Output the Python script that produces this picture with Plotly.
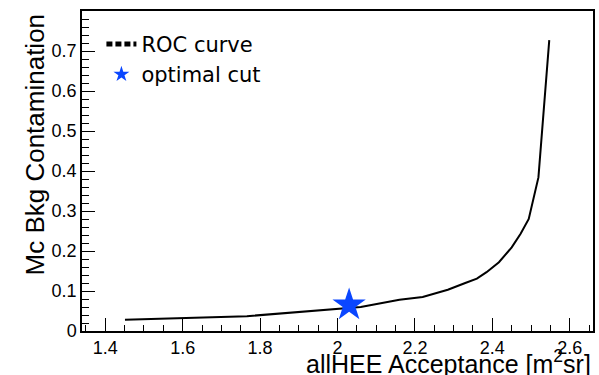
import plotly.graph_objects as go

# ROC curve: signal acceptance vs. MC background contamination
roc_acceptance = [1.451, 1.766, 2.060, 2.160, 2.220, 2.285, 2.330, 2.360,
                  2.385, 2.417, 2.450, 2.473, 2.494, 2.519, 2.547]
roc_contamination = [0.028, 0.037, 0.060, 0.078, 0.085, 0.103, 0.120, 0.131,
                     0.147, 0.172, 0.209, 0.243, 0.280, 0.384, 0.727]

# chosen working point
opt_acceptance = [2.03]
opt_contamination = [0.065]

x_tickvals = [1.4, 1.6, 1.8, 2.0, 2.2, 2.4, 2.6]
x_ticktext = ["1.4", "1.6", "1.8", "2", "2.2", "2.4", "2.6"]
y_tickvals = [0, 0.1, 0.2, 0.3, 0.4, 0.5, 0.6, 0.7]
y_ticktext = ["0", "0.1", "0.2", "0.3", "0.4", "0.5", "0.6", "0.7"]

title_text = "332.84 12 466.66 0.37"
x_title = "allHEE Acceptance [m<sup>2</sup>sr]"
y_title = "Mc Bkg Contamination"

AX_FONT = "Liberation Sans, Arial, sans-serif"
LEG_FONT = "DejaVu Sans, sans-serif"
STAR_BLUE = "#0a46ff"

fig = go.Figure()

fig.add_trace(go.Scatter(
    x=roc_acceptance, y=roc_contamination, mode="lines",
    line=dict(color="black", width=2), showlegend=False,
))
# legend entry for the curve
fig.add_trace(go.Scatter(
    x=[None], y=[None], mode="lines", name="ROC curve",
    line=dict(color="black", width=1.4, dash="6px,3px"),
))
fig.add_trace(go.Scatter(
    x=opt_acceptance, y=opt_contamination, mode="markers", name="optimal cut",
    marker=dict(symbol="star", size=25, color=STAR_BLUE, line=dict(width=0)),
))

axis_common = dict(
    showgrid=False, zeroline=False,
    showline=True, linecolor="black", linewidth=1.5, mirror=True,
    ticks="inside", ticklen=13, tickwidth=1, tickcolor="black",
    tickfont=dict(family=AX_FONT, size=18, color="black"),
)

fig.update_layout(
    width=599, height=375,
    margin=dict(l=82, r=4, t=11, b=44),
    paper_bgcolor="white", plot_bgcolor="white",
    xaxis=dict(range=[1.34, 2.66], tickvals=x_tickvals, ticktext=x_ticktext,
               minor=dict(dtick=0.05, tick0=1.4, ticks="inside", ticklen=6,
                          tickcolor="black", tickwidth=1),
               **axis_common),
    yaxis=dict(range=[0, 0.8], tickvals=y_tickvals, ticktext=y_ticktext,
               minor=dict(dtick=0.02, tick0=0, ticks="inside", ticklen=7,
                          tickcolor="black", tickwidth=1),
               **axis_common),
    legend=dict(x=0.038, y=0.96, xanchor="left", yanchor="top",
                bgcolor="rgba(0,0,0,0)",
                font=dict(family=LEG_FONT, size=21, color="black"),
                tracegroupgap=0, itemsizing="constant"),
    annotations=[
        dict(text=title_text, xref="paper", yref="paper", x=0.485, y=1.02,
             xanchor="center", yanchor="bottom", showarrow=False,
             font=dict(family=AX_FONT, size=18, color="black")),
        dict(text=x_title, xref="paper", yref="paper", x=1.0, y=-0.152,
             xanchor="right", yanchor="bottom", showarrow=False,
             font=dict(family=AX_FONT, size=25, color="black")),
        dict(text=y_title, xref="paper", yref="paper", x=-0.091, y=1.0,
             xanchor="center", yanchor="top", textangle=-90, showarrow=False,
             font=dict(family=AX_FONT, size=26, color="black")),
    ],
)

fig.write_html("out.html")
